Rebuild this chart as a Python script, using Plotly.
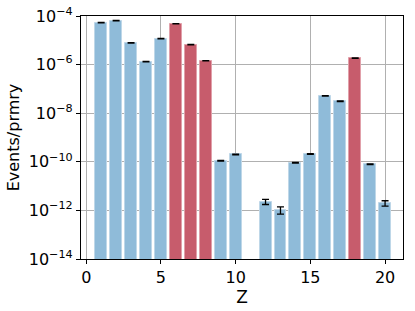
import plotly.graph_objects as go

Z = [1, 2, 3, 4, 5, 6, 7, 8, 9, 10, 12, 13, 14, 15, 16, 17, 18, 19, 20]
events = [5.3e-5, 6.4e-5, 7.9e-6, 1.32e-6, 1.17e-5, 4.8e-5, 6.6e-6, 1.44e-6,
          1.1e-10, 2.0e-10, 2.3e-12, 1.05e-12, 9.1e-11, 2.1e-10, 5.2e-8, 3.1e-8,
          1.86e-6, 7.9e-11, 2.0e-12]
errors = [1.0e-6, 1.2e-6, 1.5e-7, 3.0e-8, 2.5e-7, 1.0e-6, 1.3e-7, 3.0e-8,
          4e-12, 7e-12, 0.55e-12, 0.35e-12, 3e-12, 7e-12, 1.2e-9, 7e-10,
          4e-8, 3e-12, 0.5e-12]
highlight_Z = [6, 7, 8, 18]

ytick_exps = [-4, -6, -8, -10, -12, -14]
xtick_vals = [0, 5, 10, 15, 20]

blue_x, blue_y, blue_e, red_x, red_y, red_e = [], [], [], [], [], []
for z, v, e in zip(Z, events, errors):
    if z in highlight_Z:
        red_x.append(z); red_y.append(v); red_e.append(e)
    else:
        blue_x.append(z); blue_y.append(v); blue_e.append(e)

fig = go.Figure()
for xs, ys, es, fill, edge in [
    (blue_x, blue_y, blue_e, "rgb(143,187,217)", "rgb(190,215,232)"),
    (red_x, red_y, red_e, "rgb(199,92,108)", "rgb(225,160,170)"),
]:
    fig.add_trace(go.Bar(
        x=xs, y=ys, width=0.8,
        marker=dict(color=fill, line=dict(color=edge, width=1)),
        error_y=dict(type="data", array=es, visible=True, color="black",
                     thickness=1.3, width=3.5),
        showlegend=False,
    ))

font = "DejaVu Sans"
fig.update_layout(
    width=415, height=311,
    margin=dict(l=81, r=12, t=16, b=52, autoexpand=False),
    paper_bgcolor="white", plot_bgcolor="white",
    bargap=0, barmode="overlay",
    font=dict(family=font, size=14, color="black"),
)
fig.update_xaxes(
    range=[-0.35, 21.2], tickvals=xtick_vals, automargin=False,
    ticks="outside", ticklen=4, tickcolor="black", tickwidth=1,
    showline=True, linecolor="black", linewidth=1.2, mirror=True,
    showgrid=True, gridcolor="#b0b0b0", gridwidth=1, zeroline=False,
    tickfont=dict(size=16),
    title=dict(text="Z", font=dict(size=17), standoff=0),
)
fig.update_yaxes(
    type="log", range=[-14, -4], automargin=False,
    tickvals=[10.0 ** p for p in ytick_exps],
    ticktext=["10<sup>\u2212%d</sup>" % (-p) for p in ytick_exps],
    ticks="outside", ticklen=4, tickcolor="black", tickwidth=1,
    showline=True, linecolor="black", linewidth=1.2, mirror=True,
    showgrid=True, gridcolor="#b0b0b0", gridwidth=1, zeroline=False,
    tickfont=dict(size=16),
    title=dict(text="Events/prmry", font=dict(size=16), standoff=5),
)
fig.write_html("out.html", config={"displayModeBar": False},
               post_script="document.body.style.margin='0';")
